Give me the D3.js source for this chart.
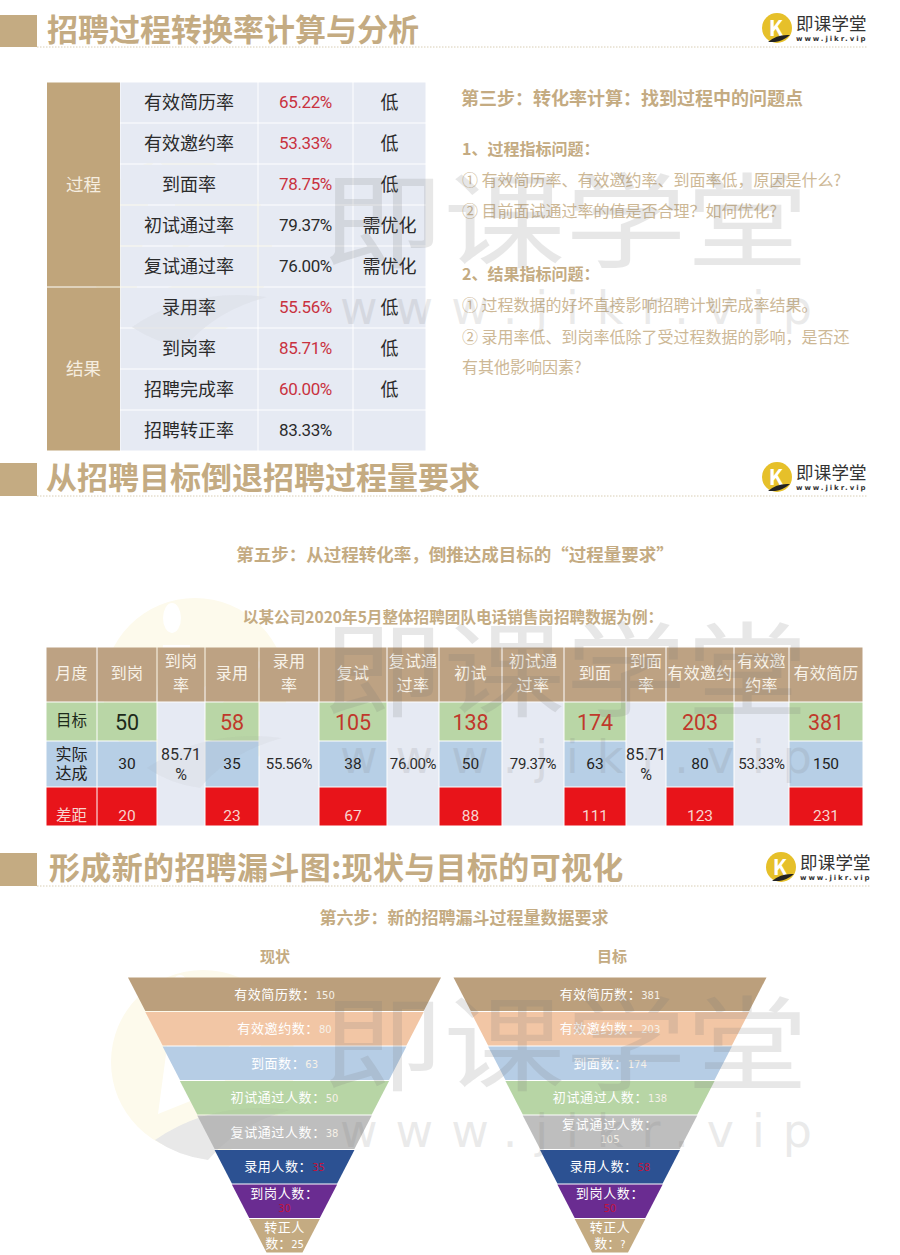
<!DOCTYPE html>
<html>
<head>
<meta charset="utf-8">
<script src="https://cdn.jsdelivr.net/npm/d3@7"></script>
<style>
  body { margin: 0; background: #fff; }
  text { font-family: "Noto Sans CJK SC", "Noto Sans", sans-serif; }
</style>
</head>
<body>
<div id="chart"></div>
<script>
// table 1: conversion rates
const rateGroups = ['过程', '结果'];
const rateGroupCounts = [5, 4];
const rateNames = ['有效简历率', '有效邀约率', '到面率', '初试通过率', '复试通过率', '录用率', '到岗率', '招聘完成率', '招聘转正率'];
const rateValues = ['65.22%', '53.33%', '78.75%', '79.37%', '76.00%', '55.56%', '85.71%', '60.00%', '83.33%'];
const rateVerdicts = ['低', '低', '低', '需优化', '需优化', '低', '低', '低', ''];

// table 2: reverse calculation
const t2Headers = ['月度', '到岗', '到岗\n率', '录用', '录用\n率', '复试', '复试通\n过率', '初试', '初试通\n过率', '到面', '到面\n率', '有效邀约', '有效邀\n约率', '有效简历'];
const t2Target = ['目标', '50', '', '58', '', '105', '', '138', '', '174', '', '203', '', '381'];
const t2Actual = ['实际\n达成', '30', '85.71\n%', '35', '55.56%', '38', '76.00%', '50', '79.37%', '63', '85.71\n%', '80', '53.33%', '150'];
const t2Gap = ['差距', '20', '', '23', '', '67', '', '88', '', '111', '', '123', '', '231'];

// funnels
const funnelStages = ['有效简历数', '有效邀约数', '到面数', '初试通过人数', '复试通过人数', '录用人数', '到岗人数', '转正人数'];
const funnelNow = ['150', '80', '63', '50', '38', '35', '30', '25'];
const funnelGoal = ['381', '203', '174', '138', '105', '58', '50', '?'];

const gold = '#c4ab82';
const W = 900, H = 1255;
const numFont = 'Roboto';

const svg = d3.select('#chart').append('svg')
  .attr('width', W).attr('height', H).style('display', 'block');

function label(parent, x, y, str, size, color, opts) {
  opts = opts || {};
  const lines = str.split('\n');
  const lh = opts.lh || size * 1.2;
  // cjk glyphs sit a little low with central baseline
  const lift = opts.font ? 0 : size * 0.1;
  const t = parent.append('text')
    .attr('x', x).attr('y', y)
    .attr('font-size', size)
    .attr('fill', color)
    .attr('font-weight', opts.weight || 400)
    .attr('text-anchor', opts.anchor || 'middle')
    .attr('dominant-baseline', 'central')
    .attr('letter-spacing', opts.spacing || 0);
  if (opts.font) t.style('font-family', opts.font);
  lines.forEach((l, i) => {
    t.append('tspan').attr('x', x)
      .attr('y', y - lift + (i - (lines.length - 1) / 2) * lh)
      .text(l);
  });
  return t;
}

// pale round logo behind the content
function drawPaleLogo(cx, cy) {
  const g = svg.append('g');
  g.append('circle').attr('cx', cx).attr('cy', cy).attr('r', 92).attr('fill', '#fdfaec');
  g.append('ellipse').attr('cx', cx - 23).attr('cy', cy - 72).attr('rx', 9).attr('ry', 15).attr('fill', '#fff');
  g.append('path')
    .attr('d', `M${cx - 45},${cy + 52} L${cx - 32},${cy - 45} L${cx - 5},${cy - 45} L${cx - 8},${cy + 10} L${cx + 45},${cy - 30} L${cx + 70},${cy - 28} L${cx + 10},${cy + 30} Z`)
    .attr('fill', '#fff');
  g.append('path')
    .attr('d', swooshPath(cx, cy))
    .attr('fill', '#efefef');
}

function swooshPath(cx, cy) {
  return `M${cx - 48},${cy + 78} Q${cx + 10},${cy + 38} ${cx + 87},${cy + 48} Q${cx + 35},${cy + 62} ${cx + 5},${cy + 98} Q${cx - 25},${cy + 94} ${cx - 48},${cy + 78}Z`;
}

drawPaleLogo(180, 249);
drawPaleLogo(195, 690);
drawPaleLogo(203, 1062);

function drawLogo(g, cx, cy) {
  const lg = g.append('g').attr('transform', `translate(${cx},${cy})`);
  lg.append('circle').attr('r', 15).attr('fill', '#e6c02a');
  lg.append('text').attr('x', -1).attr('y', -1).attr('text-anchor', 'middle')
    .attr('dominant-baseline', 'central')
    .attr('font-size', 21).attr('font-weight', 700).attr('fill', '#fff').text('K');
  lg.append('path').attr('d', 'M-9,14 Q0,6 13,7 Q6,13 -2,14 Z').attr('fill', '#222');
  label(lg, 19, -4, '即课学堂', 17.5, '#333', { anchor: 'start', spacing: .2 });
  lg.append('text').attr('x', 19).attr('y', 11).attr('font-size', 7)
    .style('font-family', 'DejaVu Sans').attr('font-weight', 700)
    .attr('letter-spacing', 1.95).attr('fill', '#333').attr('dominant-baseline', 'central')
    .text('www.jikr.vip');
}

function drawHeader(title, top, textX, lineY, logoX, spacing) {
  const g = svg.append('g');
  g.append('rect').attr('x', 0).attr('y', top).attr('width', 37).attr('height', lineY - top).attr('fill', gold);
  label(g, textX, top + 15, title, 31, gold, { anchor: 'start', weight: 700, spacing: spacing });
  g.append('line').attr('x1', 37).attr('x2', logoX + 90).attr('y1', lineY).attr('y2', lineY)
    .attr('stroke', '#d8cdb4').attr('stroke-width', 1).attr('stroke-dasharray', '1.5 1.5');
  drawLogo(g, logoX, lineY - 19);
}

drawHeader('招聘过程转换率计算与分析', 15, 47, 47, 777, 0);
drawHeader('从招聘目标倒退招聘过程量要求', 463, 46, 496, 777, 0);
drawHeader('形成新的招聘漏斗图:现状与目标的可视化', 853, 49, 886, 781, .35);

// ---- table 1 ----
const t1 = svg.append('g');
const t1Rows = d3.scaleBand().domain(rateNames).range([82, 451]);
const t1Cols = d3.scaleOrdinal(['group', 'name', 'value', 'verdict', 'end'], [47, 120, 258, 353, 426]);
const t1Cell = '#e6eaf3';
const t1Red = '#c9323f';

rateNames.forEach((name, i) => {
  const y = t1Rows(name), h = t1Rows.bandwidth();
  [['name', 'value'], ['value', 'verdict'], ['verdict', 'end']].forEach(c => {
    t1.append('rect')
      .attr('x', t1Cols(c[0]) + .5).attr('y', y + .5)
      .attr('width', t1Cols(c[1]) - t1Cols(c[0]) - 1).attr('height', h - 1)
      .attr('fill', t1Cell);
  });
  const cy = y + h / 2;
  label(t1, (t1Cols('name') + t1Cols('value')) / 2, cy, name, 18, '#2b2b2b');
  label(t1, (t1Cols('value') + t1Cols('verdict')) / 2, cy - 1, rateValues[i], 17,
    rateVerdicts[i] === '低' ? t1Red : '#2b2b2b', { font: numFont, spacing: -.4 });
  label(t1, (t1Cols('verdict') + t1Cols('end')) / 2, cy, rateVerdicts[i], 18, '#2b2b2b');
});

let rowAt = 0;
rateGroups.forEach((grp, i) => {
  const y0 = t1Rows(rateNames[rowAt]);
  const y1 = y0 + rateGroupCounts[i] * t1Rows.bandwidth();
  t1.append('rect').attr('x', t1Cols('group')).attr('y', y0 + .5)
    .attr('width', t1Cols('name') - t1Cols('group')).attr('height', y1 - y0 - 1).attr('fill', '#c0a57b');
  label(t1, (t1Cols('group') + t1Cols('name')) / 2, (y0 + y1) / 2, grp, 17.5, '#f6eee0');
  rowAt += rateGroupCounts[i];
});

// ---- right hand notes ----
const notes = svg.append('g');
const noteColor = '#cdb896';
label(notes, 461, 99, '第三步：转化率计算：找到过程中的问题点', 18, gold, { anchor: 'start', weight: 700 });
label(notes, 462, 150, '1、过程指标问题：', 16, gold, { anchor: 'start', weight: 700 });
label(notes, 462, 181, '① 有效简历率、有效邀约率、到面率低，原因是什么?', 16, noteColor, { anchor: 'start' });
label(notes, 462, 212, '② 目前面试通过率的值是否合理？如何优化?', 16, noteColor, { anchor: 'start' });
label(notes, 462, 275, '2、结果指标问题：', 16, gold, { anchor: 'start', weight: 700 });
label(notes, 462, 306, '① 过程数据的好坏直接影响招聘计划完成率结果。', 16, noteColor, { anchor: 'start' });
label(notes, 462, 338, '② 录用率低、到岗率低除了受过程数据的影响，是否还', 16, noteColor, { anchor: 'start' });
label(notes, 462, 368, '有其他影响因素?', 16, noteColor, { anchor: 'start' });

label(svg, 455, 555, '第五步：从过程转化率，倒推达成目标的“过程量要求”', 17.5, gold, { weight: 700 });
label(svg, 453, 618, '以某公司2020年5月整体招聘团队电话销售岗招聘数据为例：', 15.6, gold, { weight: 700 });
label(svg, 464, 918, '第六步：新的招聘漏斗过程量数据要求', 17, gold, { weight: 700 });
label(svg, 275, 956, '现状', 15, gold, { weight: 700 });
label(svg, 612, 956, '目标', 15, gold, { weight: 700 });

// ---- table 2 ----
const t2 = svg.append('g');
const t2Edges = [46, 97, 157, 205, 259, 319, 387, 439, 502, 564, 626, 666, 734, 789, 863];
const t2X = d3.scaleLinear().domain(d3.range(t2Edges.length)).range(t2Edges);
const rowY = d3.scaleOrdinal(['head', 'target', 'actual', 'gap', 'end'], [647, 702, 741, 787, 826]);

function t2Rect(c, r0, r1, fill) {
  t2.append('rect')
    .attr('x', t2X(c) + .5).attr('y', rowY(r0) + .5)
    .attr('width', t2X(c + 1) - t2X(c) - 1).attr('height', rowY(r1) - rowY(r0) - 1)
    .attr('fill', fill);
}

t2Headers.forEach((hd, c) => {
  const mx = (t2X(c) + t2X(c + 1)) / 2;
  t2Rect(c, 'head', 'target', '#bda283');
  label(t2, mx, 674, hd, 16, '#f8f2e8', { lh: 24, spacing: .2 });

  const isRate = c % 2 === 0 && c > 0;
  if (isRate) {
    t2Rect(c, 'target', 'end', '#e6eaf3');
    const wrapped = t2Actual[c].indexOf('\n') >= 0;
    label(t2, mx, 764, t2Actual[c], wrapped ? 16 : 15, '#2b2b2b', { lh: 20, font: numFont, spacing: wrapped ? 0 : -.4 });
    return;
  }
  t2Rect(c, 'target', 'actual', '#b9d6a6');
  t2Rect(c, 'actual', 'gap', '#b7cfe6');
  t2Rect(c, 'gap', 'end', '#e8141a');
  const isFirst = c === 0;
  const targetColor = (isFirst || c === 1) ? '#1d2a1a' : '#c0392b';
  if (isFirst) {
    label(t2, mx, 721, t2Target[c], 15.5, targetColor);
    label(t2, mx, 764, t2Actual[c], 16, '#222', { lh: 19 });
    label(t2, mx, 816, t2Gap[c], 15.5, '#f7d5cf');
  } else {
    label(t2, mx, 722, t2Target[c], 21.5, targetColor, { font: numFont });
    label(t2, mx, 764, t2Actual[c], 15.5, '#222', { font: numFont });
    label(t2, mx, 816, t2Gap[c], 15.5, '#f7d5cf', { font: numFont });
  }
});

// ---- funnels ----
const funnelFills = ['#bb9f7c', '#f2c6a5', '#b6cde5', '#b7d5a5', '#bebebe', '#2c5192', '#6a2c91', '#c4ab82'];
const funnelY = d3.scaleBand().domain(funnelStages).range([977, 1253]);
const funnelHalf = d3.scaleLinear().domain([0, funnelStages.length]).range([156.5, 18]);

function drawFunnel(cx, values, wrapAt) {
  const g = svg.append('g');
  const path = d3.line();
  funnelStages.forEach((st, i) => {
    const y0 = funnelY(st), y1 = y0 + funnelY.bandwidth();
    const a = funnelHalf(i), b = funnelHalf(i + 1);
    g.append('path')
      .attr('d', path([[cx - a, y0 + .5], [cx + a, y0 + .5], [cx + b, y1 - .5], [cx - b, y1 - .5]]) + 'Z')
      .attr('fill', funnelFills[i]);

    const my = (y0 + y1) / 2 - 1.5;
    const valueColor = (i === 5 || i === 6) ? '#c0143c' : '#f6f1e8';
    if (i === funnelStages.length - 1) {
      label(g, cx, my - 7, '转正人', 13, '#fff', { spacing: .5 });
      const tail = g.append('text').attr('x', cx).attr('y', my + 8)
        .attr('text-anchor', 'middle').attr('dominant-baseline', 'central');
      tail.append('tspan').attr('font-size', 13).attr('fill', '#fff').text('数：');
      tail.append('tspan').attr('font-size', 10).attr('dy', 2).style('font-family', 'DejaVu Sans').attr('fill', '#fff').text(values[i]);
    } else if (wrapAt.indexOf(i) >= 0) {
      label(g, cx, my - 6, st + '：', 13, '#fff', { spacing: .7 });
      g.append('text').attr('x', cx).attr('y', my + 9).attr('text-anchor', 'middle')
        .attr('dominant-baseline', 'central').attr('font-size', 10)
        .style('font-family', 'DejaVu Sans').attr('fill', valueColor).text(values[i]);
    } else {
      const t = g.append('text').attr('x', cx).attr('y', my)
        .attr('text-anchor', 'middle').attr('dominant-baseline', 'central');
      t.append('tspan').attr('font-size', 13).attr('letter-spacing', .6).attr('fill', '#fff').text(st + '：');
      t.append('tspan').attr('font-size', 10).attr('dy', 2).style('font-family', 'DejaVu Sans').attr('fill', valueColor).text(values[i]);
    }
  });
}
drawFunnel(284.5, funnelNow, [6]);
drawFunnel(610, funnelGoal, [4, 6]);

// ---- watermarks on top ----
function drawWatermark(top, cx, cy) {
  const g = svg.append('g').style('pointer-events', 'none');
  g.append('path').attr('d', swooshPath(cx, cy)).attr('fill', '#8a8a8a').attr('opacity', .06);

  g.append('text')
    .attr('transform', `translate(322,${top + 42}) scale(1.18,1)`)
    .attr('dominant-baseline', 'central')
    .attr('font-size', 103).attr('fill', '#777')
    .attr('opacity', .17)
    .text('即课学堂');
  g.append('text')
    .attr('x', 340).attr('y', top + 135)
    .attr('dominant-baseline', 'central')
    .style('font-family', 'DejaVu Sans').attr('font-size', 46).attr('letter-spacing', 18)
    .attr('fill', '#777').attr('opacity', .15)
    .text('www.jikr.vip');
}
drawWatermark(173, 180, 249);
drawWatermark(622, 195, 690);
drawWatermark(996, 203, 1062);
</script>
</body>
</html>
